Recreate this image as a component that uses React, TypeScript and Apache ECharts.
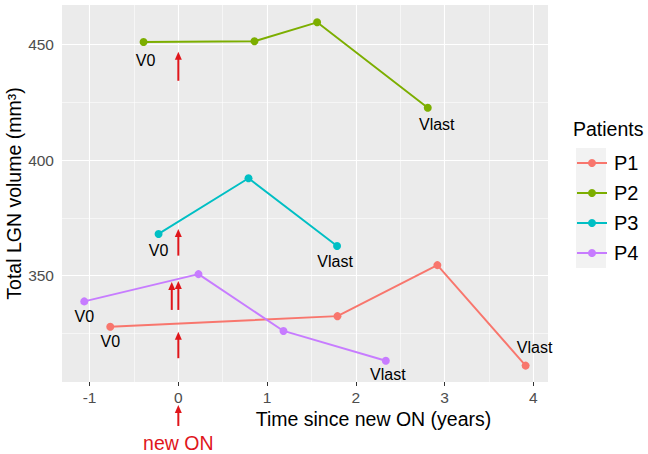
import React, { useEffect, useRef } from "react";
import * as echarts from "echarts";

// ---- data ----
const patients = ["P1", "P2", "P3", "P4"];
const patientColors = ["#F8766D", "#7CAE00", "#00BFC4", "#C77CFF"];

const p1Time = [-0.767, 1.793, 2.919, 3.914];
const p1Volume = [327.8, 332.4, 354.5, 311.0];
const p2Time = [-0.392, 0.858, 1.564, 2.811];
const p2Volume = [451.1, 451.4, 459.6, 422.6];
const p3Time = [-0.223, 0.791, 1.789];
const p3Volume = [368.0, 392.1, 362.8];
const p4Time = [-1.06, 0.227, 1.185, 2.338];
const p4Volume = [338.8, 350.6, 326.0, 313.1];

const xTicks = [-1, 0, 1, 2, 3, 4];
const xMinor = [-0.5, 0.5, 1.5, 2.5, 3.5];
const yTicks = [350, 400, 450];
const yMinor = [325, 375, 425];
const xRange = [-1.311, 4.166];
const yRange = [303.9, 467.1];

// red event arrows (time, tail volume, tip volume)
const arrowTime = [0, 0, -0.074, 0, 0];
const arrowFrom = [434.3, 358.6, 335.1, 335.1, 314.2];
const arrowTo = [446.9, 370.1, 347.2, 347.6, 325.7];

const firstLabel = "V0";
const lastLabel = "Vlast";

// ---- layout (label offsets in px: [first, last]) ----
const labelOffsets: number[][][] = [
  [[0, 15], [9, -18]],
  [[2, 19], [9, 17]],
  [[0, 17], [-2, 16]],
  [[0, 15], [2, 14]],
];

const FONT = "'Liberation Sans', Arial, Helvetica, sans-serif";
const RED = "#E0161B";

const times = [p1Time, p2Time, p3Time, p4Time];
const volumes = [p1Volume, p2Volume, p3Volume, p4Volume];

export default function App() {
  const ref = useRef<HTMLDivElement>(null);
  useEffect(() => {
    document.body.style.margin = "0";
    const chart = echarts.init(ref.current!, null, { renderer: "svg" });

    const gridLines: any[] = [];
    xTicks.forEach((v) => gridLines.push({ xAxis: v, lineStyle: { color: "#fff", width: 1.1, type: "solid" } }));
    xMinor.forEach((v) => gridLines.push({ xAxis: v, lineStyle: { color: "#fff", width: 0.55, type: "solid" } }));
    yTicks.forEach((v) => gridLines.push({ yAxis: v, lineStyle: { color: "#fff", width: 1.1, type: "solid" } }));
    yMinor.forEach((v) => gridLines.push({ yAxis: v, lineStyle: { color: "#fff", width: 0.55, type: "solid" } }));

    const dataSeries = patients.map((name, k) => ({
      name,
      type: "line",
      z: 3,
      symbol: "circle",
      symbolSize: 8,
      color: patientColors[k],
      lineStyle: { width: 1.9, color: patientColors[k] },
      itemStyle: { color: patientColors[k] },
      data: times[k].map((t, i) => {
        const n = times[k].length;
        const item: any = { value: [t, volumes[k][i]] };
        if (i === 0 || i === n - 1) {
          const off = labelOffsets[k][i === 0 ? 0 : 1];
          item.label = {
            show: true,
            position: "inside",
            offset: off,
            formatter: i === 0 ? firstLabel : lastLabel,
            color: "#000",
            fontSize: 16,
            fontFamily: FONT,
          };
        }
        return item;
      }),
    }));

    const option: any = {
      animation: false,
      textStyle: { fontFamily: FONT },
      title: {
        text: "Patients",
        left: 573,
        top: 119,
        padding: 0,
        textStyle: { fontSize: 19.5, fontWeight: "normal", color: "#000", fontFamily: FONT },
      },
      legend: {
        data: patients,
        orient: "vertical",
        left: 576,
        top: 153,
        padding: 0,
        itemWidth: 30,
        itemHeight: 10,
        itemGap: 10,
        textStyle: { fontSize: 20, color: "#000", lineHeight: 20, fontFamily: FONT, padding: [0, 0, 0, 2] },
      },
      grid: {
        left: 62,
        right: 100,
        top: 5,
        bottom: 72,
        show: true,
        backgroundColor: "#EBEBEB",
        borderWidth: 0,
        containLabel: false,
        outerBoundsMode: "none",
      },
      xAxis: {
        type: "value",
        min: xRange[0],
        max: xRange[1],
        axisLine: { show: false },
        axisTick: { show: true, length: 4, customValues: xTicks, lineStyle: { color: "#333", width: 1 } },
        axisLabel: { customValues: xTicks, color: "#4D4D4D", fontSize: 15.5, margin: 7, fontFamily: FONT },
        splitLine: { show: false },
        name: "Time since new ON (years)",
        nameLocation: "middle",
        nameGap: 27,
        nameMoveOverlap: false,
        nameTextStyle: { fontSize: 19.5, color: "#000", fontFamily: FONT, padding: [0, 0, 0, 137] },
      },
      yAxis: {
        type: "value",
        min: yRange[0],
        max: yRange[1],
        axisLine: { show: false },
        axisTick: { show: true, length: 4, customValues: yTicks, lineStyle: { color: "#333", width: 1 } },
        axisLabel: { customValues: yTicks, color: "#4D4D4D", fontSize: 15.5, margin: 8, fontFamily: FONT },
        splitLine: { show: false },
        name: "Total LGN volume (mm³)",
        nameLocation: "middle",
        nameRotate: 90,
        nameGap: 38,
        nameMoveOverlap: false,
        nameTextStyle: { fontSize: 19.5, color: "#000", fontFamily: FONT },
      },
      series: [
        {
          name: "grid",
          type: "line",
          data: [],
          z: 1,
          silent: true,
          markLine: {
            silent: true,
            z: 1,
            symbol: ["none", "none"],
            label: { show: false },
            emphasis: { disabled: true },
            data: gridLines,
          },
        },
        ...dataSeries,
      ],
    };
    chart.setOption(option);

    const g: any[] = [];
    patients.forEach((_, i) => {
      g.push({
        type: "rect",
        z: 0,
        shape: { x: 576, y: 148 + i * 30, width: 30, height: 30 },
        style: { fill: "#F2F2F2" },
      });
    });
    arrowTime.forEach((t, i) => {
      const a = chart.convertToPixel({ gridIndex: 0 }, [t, arrowFrom[i]]) as number[];
      const b = chart.convertToPixel({ gridIndex: 0 }, [t, arrowTo[i]]) as number[];
      g.push({
        type: "line",
        z: 10,
        shape: { x1: a[0], y1: a[1], x2: b[0], y2: b[1] + 6 },
        style: { stroke: RED, lineWidth: 2 },
      });
      g.push({
        type: "polygon",
        z: 10,
        shape: { points: [[b[0], b[1]], [b[0] - 3.5, b[1] + 8], [b[0] + 3.5, b[1] + 8]] },
        style: { fill: RED },
      });
    });
    const x0 = chart.convertToPixel({ xAxisIndex: 0 }, 0) as number;
    g.push({ type: "line", z: 10, shape: { x1: x0, y1: 426, x2: x0, y2: 411 }, style: { stroke: RED, lineWidth: 2 } });
    g.push({
      type: "polygon",
      z: 10,
      shape: { points: [[x0, 405], [x0 - 3.5, 413], [x0 + 3.5, 413]] },
      style: { fill: RED },
    });
    g.push({
      type: "text",
      z: 10,
      x: x0,
      y: 443,
      style: { text: "new ON", fill: RED, fontSize: 19.5, fontFamily: FONT, align: "center", verticalAlign: "middle" },
    });
    chart.setOption({ graphic: g });

    return () => chart.dispose();
  }, []);
  return <div ref={ref} style={{ position: "absolute", left: 0, top: 0, width: 648, height: 454 }} />;
}
